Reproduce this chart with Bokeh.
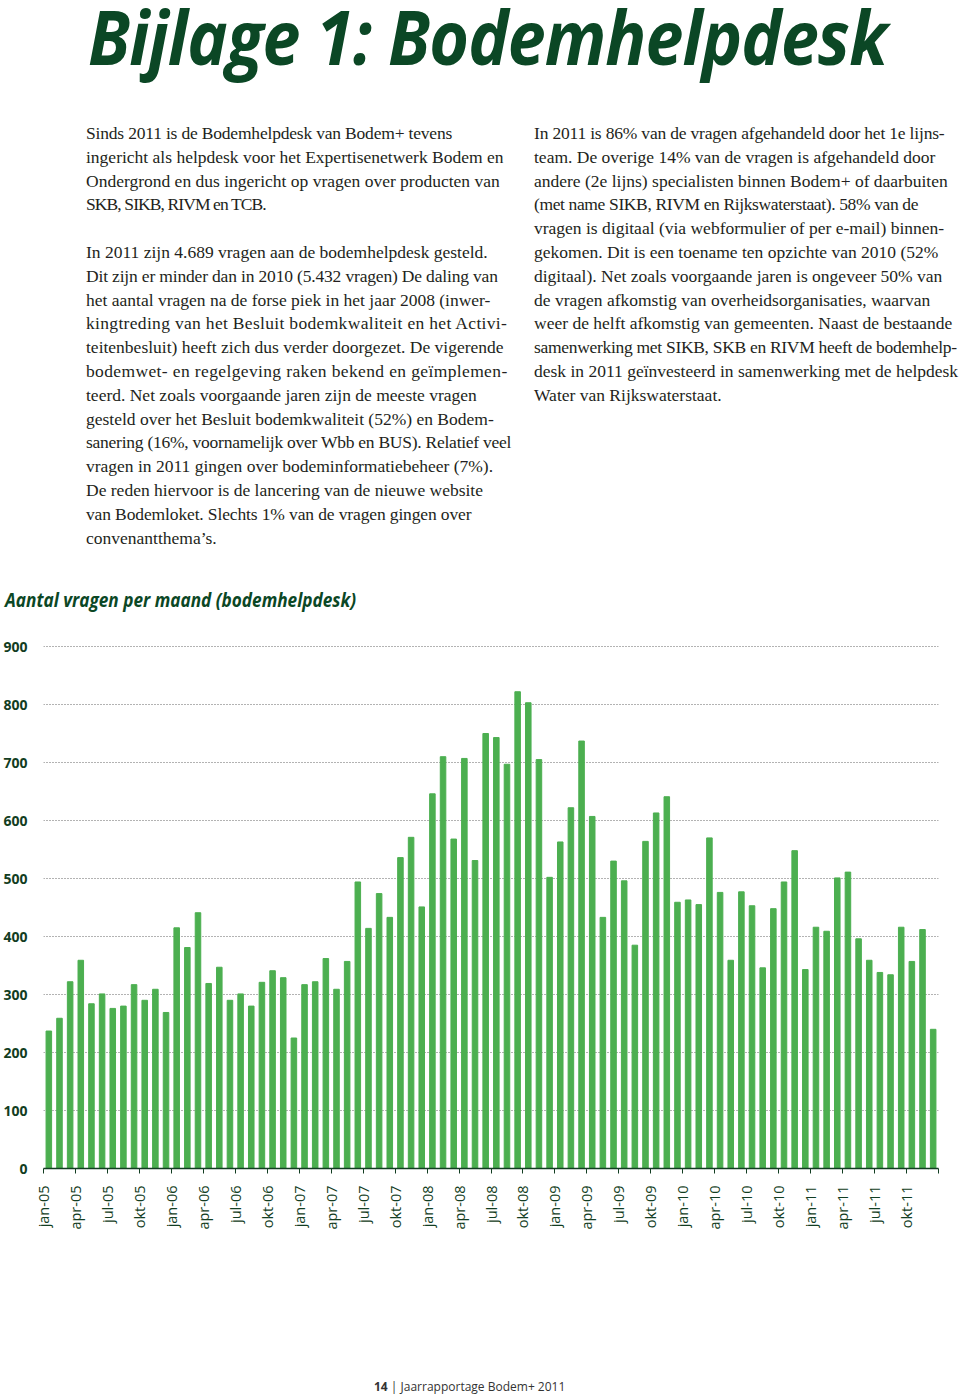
import numpy as np
from bokeh.plotting import figure
from bokeh.models import Range1d, FixedTicker, Div
from bokeh.layouts import column
from bokeh.embed import file_html
from bokeh.resources import INLINE

# ---------------- data ----------------
values = [237, 259, 322, 359, 284, 301, 276, 280, 317, 290, 309, 269,   # 2005
          415, 381, 441, 319, 347, 290, 301, 280, 321, 341, 329, 225,   # 2006
          317, 322, 362, 309, 357, 494, 414, 474, 433, 536, 571, 451,   # 2007
          646, 710, 568, 707, 531, 750, 743, 697, 822, 803, 705, 502,   # 2008
          563, 622, 737, 607, 433, 530, 496, 385, 564, 613, 641, 459,   # 2009
          463, 455, 570, 476, 359, 477, 453, 346, 448, 494, 548, 343,   # 2010
          416, 409, 501, 511, 396, 359, 338, 334, 416, 357, 412, 240]   # 2011

tick_labels = ["jan-05", "apr-05", "jul-05", "okt-05",
               "jan-06", "apr-06", "jul-06", "okt-06",
               "jan-07", "apr-07", "jul-07", "okt-07",
               "jan-08", "apr-08", "jul-08", "okt-08",
               "jan-09", "apr-09", "jul-09", "okt-09",
               "jan-10", "apr-10", "jul-10", "okt-10",
               "jan-11", "apr-11", "jul-11", "okt-11"]
y_ticks = [0, 100, 200, 300, 400, 500, 600, 700, 800, 900]

title_text = "Bijlage 1: Bodemhelpdesk"
chart_title = "Aantal vragen per maand (bodemhelpdesk)"
footer_num = "14"
footer_text = "Jaarrapportage Bodem+ 2011"

left_lines = [
    "Sinds 2011 is de Bodemhelpdesk van Bodem+ tevens",
    "ingericht als helpdesk voor het Expertisenetwerk Bodem en",
    "Ondergrond en dus ingericht op vragen over producten van",
    "SKB, SIKB, RIVM en TCB.",
    "",
    "In 2011 zijn 4.689 vragen aan de bodemhelpdesk gesteld.",
    "Dit zijn er minder dan in 2010 (5.432 vragen) De daling van",
    "het aantal vragen na de forse piek in het jaar 2008 (inwer-",
    "kingtreding van het Besluit bodemkwaliteit en het Activi-",
    "teitenbesluit) heeft zich dus verder doorgezet. De vigerende",
    "bodemwet- en regelgeving raken bekend en geïmplemen-",
    "teerd. Net zoals voorgaande jaren zijn de meeste vragen",
    "gesteld over het Besluit bodemkwaliteit (52%) en Bodem-",
    "sanering (16%, voornamelijk over Wbb en BUS). Relatief veel",
    "vragen in 2011 gingen over bodeminformatiebeheer (7%).",
    "De reden hiervoor is de lancering van de nieuwe website",
    "van Bodemloket. Slechts 1% van de vragen gingen over",
    "convenantthema’s.",
]
right_lines = [
    "In 2011 is 86% van de vragen afgehandeld door het 1e lijns-",
    "team. De overige 14% van de vragen is afgehandeld door",
    "andere (2e lijns) specialisten binnen Bodem+ of daarbuiten",
    "(met name SIKB, RIVM en Rijkswaterstaat). 58% van de",
    "vragen is digitaal (via webformulier of per e-mail) binnen-",
    "gekomen. Dit is een toename ten opzichte van 2010 (52%",
    "digitaal). Net zoals voorgaande jaren is ongeveer 50% van",
    "de vragen afkomstig van overheidsorganisaties, waarvan",
    "weer de helft afkomstig van gemeenten. Naast de bestaande",
    "samenwerking met SIKB, SKB en RIVM heeft de bodemhelp-",
    "desk in 2011 geïnvesteerd in samenwerking met de helpdesk",
    "Water van Rijkswaterstaat.",
]

# ---------------- styles ----------------
DARK_GREEN = "#0b4725"
AXIS_GREEN = "#123d22"
BAR_GREEN = "#4caf50"
TEXT = "#231f20"

# per-line letter-spacing (px) so line lengths follow the original typesetting
left_spacing = {0: -0.19, 3: -0.9, 6: -0.17, 8: 0.32, 10: 0.37, 13: -0.25, 16: -0.13}
right_spacing = {0: -0.19, 3: -0.37, 9: -0.3}


def lines_html(lines, spacing):
    out = []
    for i, l in enumerate(lines):
        if not l:
            out.append("<div>&nbsp;</div>")
        else:
            ls = spacing.get(i, 0)
            out.append(f'<div style="letter-spacing:{ls}px">{l}</div>')
    return "".join(out)


body_style = ("position:absolute;font-family:'Liberation Serif';font-size:17.5px;"
              "line-height:23.8px;color:%s;white-space:nowrap;" % TEXT)

top_html = f"""
<div style="position:relative;width:960px;height:620px;overflow:visible;">
  <div style="position:absolute;left:88px;top:0px;font-family:'Open Sans';font-weight:700;
       font-style:italic;font-size:68px;line-height:63.6px;color:{DARK_GREEN};white-space:nowrap;
       letter-spacing:-0.9px;transform:scaleY(1.118);transform-origin:0 0;">{title_text}</div>
  <div style="{body_style}left:86px;top:122px;">{lines_html(left_lines, left_spacing)}</div>
  <div style="{body_style}left:534px;top:122px;">{lines_html(right_lines, right_spacing)}</div>
  <div style="position:absolute;left:5px;top:588px;font-family:'Open Sans';font-weight:700;
       font-style:italic;font-size:17.2px;line-height:20.6px;color:{DARK_GREEN};white-space:nowrap;
       transform:scaleY(1.163);transform-origin:0 0;">{chart_title}</div>
</div>
"""
top_div = Div(text=top_html, width=960, height=620, margin=0)

# ---------------- chart ----------------
x = [i + 0.5 for i in range(len(values))]
p = figure(width=960, height=618, x_range=Range1d(0, len(values)),
           y_range=Range1d(0, 900 * 534 / 522),
           output_backend="svg", toolbar_location=None,
           min_border_top=14, min_border_bottom=70, min_border_left=37, min_border_right=22,
           margin=0)
p.vbar(x=x, top=values, width=0.52, color=BAR_GREEN)

p.outline_line_color = None
p.xgrid.grid_line_color = None
p.ygrid.grid_line_color = "#666666"
p.ygrid.grid_line_dash = "1 2"
p.ygrid.grid_line_width = 1

xticks = list(range(0, len(values) + 1, 3))
p.xaxis.ticker = FixedTicker(ticks=xticks)
overrides = {t: "" for t in xticks}
for i, lab in enumerate(tick_labels):
    overrides[xticks[i]] = lab
p.xaxis.major_label_overrides = overrides
p.xaxis.major_label_orientation = np.pi / 2
p.xaxis.major_label_text_font = "Open Sans"
p.xaxis.major_label_text_font_size = "14.5px"
p.xaxis.major_label_text_color = AXIS_GREEN
p.xaxis.major_label_standoff = 12
p.xaxis.axis_line_color = AXIS_GREEN
p.xaxis.axis_line_width = 1.5
p.xaxis.major_tick_line_color = AXIS_GREEN
p.xaxis.major_tick_out = 5
p.xaxis.major_tick_in = 0
p.xaxis.minor_tick_line_color = None

p.yaxis.ticker = FixedTicker(ticks=y_ticks)
p.yaxis.major_label_text_font = "Open Sans"
p.yaxis.major_label_text_font_style = "bold"
p.yaxis.major_label_text_font_size = "14px"
p.yaxis.major_label_text_color = AXIS_GREEN
p.yaxis.major_label_standoff = 10
p.yaxis.axis_line_color = None
p.yaxis.major_tick_line_color = None
p.yaxis.minor_tick_line_color = None

# ---------------- footer ----------------
footer_html = f"""
<div style="position:relative;width:960px;height:158px;">
  <div style="position:absolute;left:374px;top:141px;font-family:'Open Sans';font-size:12px;
       line-height:16px;color:#333;white-space:nowrap;">
    <b>{footer_num}</b> | {footer_text}</div>
</div>
"""
footer_div = Div(text=footer_html, width=960, height=158, margin=0)

layout = column(top_div, p, footer_div, spacing=0, margin=0)
open("out.html", "w").write(file_html(layout, INLINE))
